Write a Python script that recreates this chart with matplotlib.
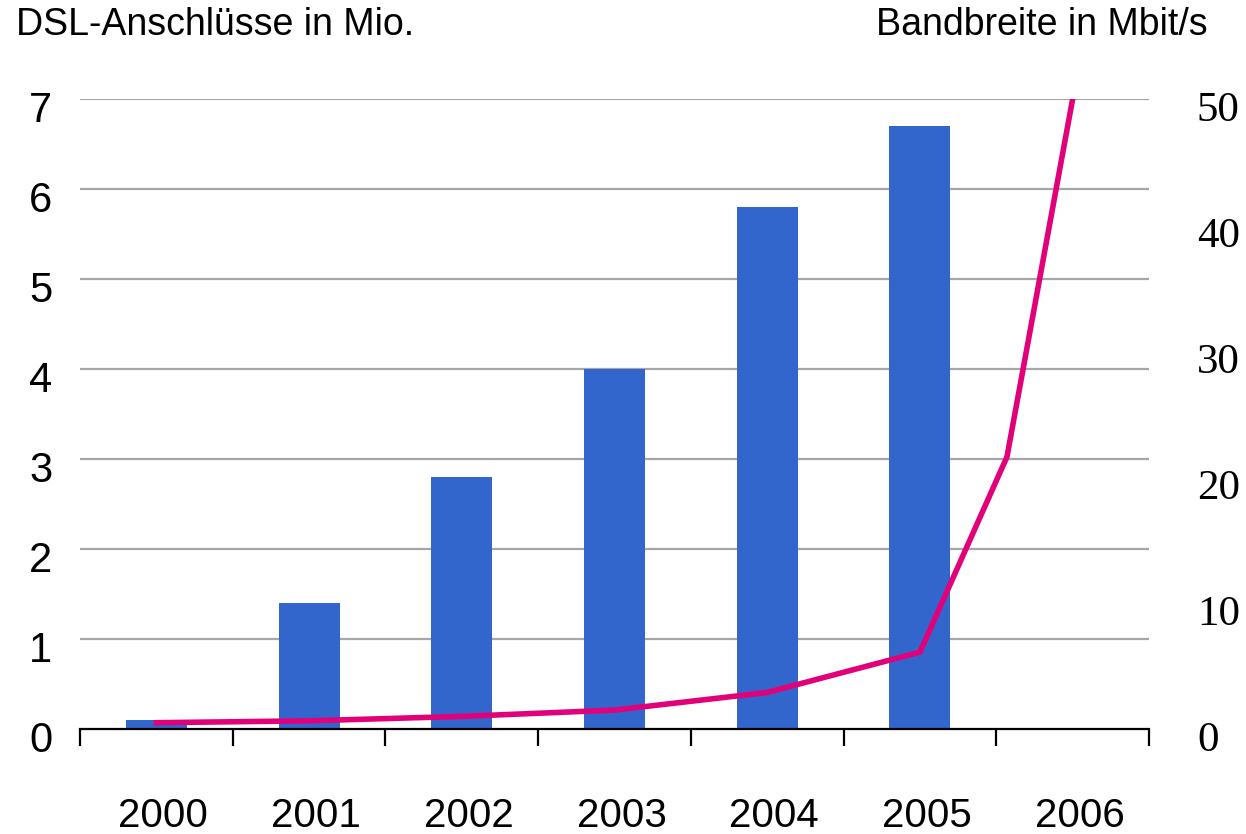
import matplotlib
matplotlib.use("Agg")
import matplotlib.pyplot as plt
import matplotlib.transforms as mtransforms
import numpy as np

plt.rcParams['font.family'] = ['Liberation Sans', 'DejaVu Sans']

years = ["2000", "2001", "2002", "2003", "2004", "2005", "2006"]
dsl_mio = [0.1, 1.4, 2.8, 4.0, 5.8, 6.7]
bw_pos = [0, 1, 2, 3, 4, 5, 5.57, 6]
bw_mbit = [0.5, 0.65, 1.0, 1.5, 2.9, 6.1, 21.6, 50]
left_ticks = [0, 1, 2, 3, 4, 5, 6, 7]
right_ticks = [0, 10, 20, 30, 40, 50]

BAR = "#3366CC"
LINE = "#E2007A"

fig = plt.figure(figsize=(12.46, 8.34), dpi=100)
ax = fig.add_axes([80/1246, 1 - 729/834, (1149-80)/1246, (729-99)/834])
ax.set_xlim(-0.5, len(years) - 0.5)
ax.set_ylim(0, 7)
for v in left_ticks[1:]:
    ax.axhline(v, color="#a6a6a6", lw=1.6, zorder=0)
ax.bar(range(len(dsl_mio)), dsl_mio, width=0.4, color=BAR, zorder=2)

for s in ["top", "right", "left"]:
    ax.spines[s].set_visible(False)
ax.spines["bottom"].set_linewidth(1.6)
ax.spines["bottom"].set_zorder(5)

ax.set_xticks(np.arange(-0.5, len(years)), minor=False)
ax.set_xticklabels([])
ax.tick_params(axis="x", which="major", length=12.5, width=1.6, direction="out", color="black")
ax.set_xticks(range(len(years)), minor=True)
ax.set_xticklabels(years, minor=True, fontsize=29)
ax.tick_params(axis="x", which="minor", length=0, pad=49)

ax.set_yticks(left_ticks)
ax.set_yticklabels([str(t) for t in left_ticks], fontsize=30)
ax.tick_params(axis="y", length=0, pad=20)

ax2 = ax.twinx()
ax2.set_ylim(0, 50)
ax2.plot(bw_pos, bw_mbit, color=LINE, lw=4.0, solid_joinstyle="miter", zorder=5)
for s in ["top", "right", "left", "bottom"]:
    ax2.spines[s].set_visible(False)
ax2.set_yticks(right_ticks)
ax2.set_yticklabels([str(t) for t in right_ticks], fontsize=31, family=["Liberation Serif", "DejaVu Serif"])
ax2.tick_params(axis="y", length=0, pad=34.5)

off = mtransforms.ScaledTranslation(0, -7/100, fig.dpi_scale_trans)
for lab in ax.get_yticklabels() + ax2.get_yticklabels():
    lab.set_transform(lab.get_transform() + off)
xoff = mtransforms.ScaledTranslation(7/100, 0, fig.dpi_scale_trans)
for lab in ax.get_xticklabels(minor=True):
    lab.set_transform(lab.get_transform() + xoff)

fig.text(16/1246, 1 - 25/834, "DSL-Anschlüsse in Mio.", fontsize=27, ha="left", va="center")
fig.text(1208/1246, 1 - 25/834, "Bandbreite in Mbit/s", fontsize=27, ha="right", va="center")

fig.savefig("out.png", dpi=100)
